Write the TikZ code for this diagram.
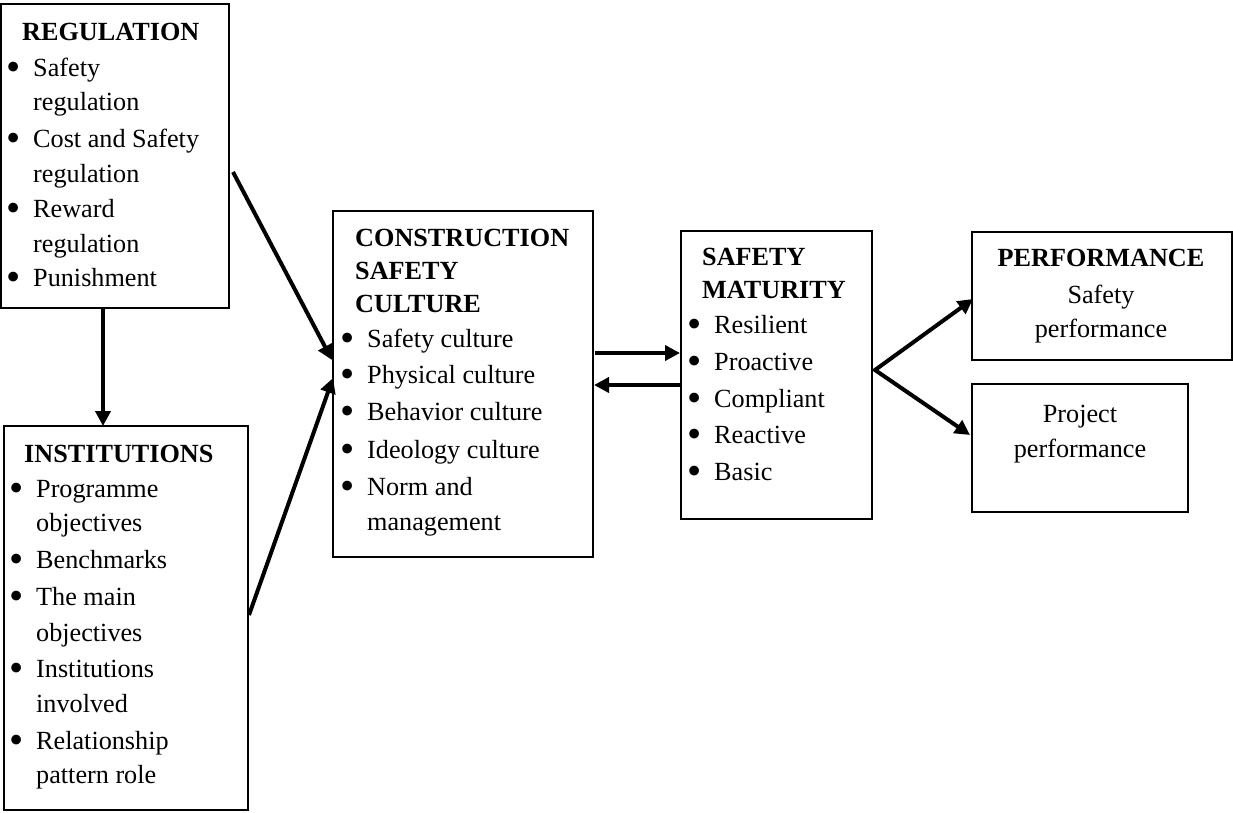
\documentclass[tikz,border=0pt]{standalone}
\usepackage{fontspec}
\usepackage{graphicx}
\setmainfont{Liberation Serif}
\usetikzlibrary{arrows.meta}
% bullet hung 20pt to the left of the item text
\newcommand\bul{\llap{\makebox[40pt]{\smash{\raisebox{-4pt}{\scalebox{1.55}{\textbullet}}}}}}
\begin{document}
\begin{tikzpicture}[x=1pt,y=-1pt,
  box/.style={draw, line width=1.8pt, rectangle, inner sep=0pt, outer sep=0pt, anchor=north west},
  txt/.style={inner sep=0pt, anchor=base west, font=\fontsize{26.2}{35}\selectfont},
  ctxt/.style={inner sep=0pt, anchor=base, font=\fontsize{26.2}{35}\selectfont},
  link/.style={line width=4pt, -{Triangle[length=15pt,width=15pt]}}]

\useasboundingbox (0,0) rectangle (1233,812);

% boxes
\node[box, minimum width=228pt, minimum height=304pt] (reg)  at (1,4) {};
\node[box, minimum width=244pt, minimum height=384pt] (inst) at (4,426) {};
\node[box, minimum width=260pt, minimum height=346pt] (csc)  at (333,211) {};
\node[box, minimum width=191pt, minimum height=288pt] (smat) at (681,231) {};
\node[box, minimum width=260pt, minimum height=128pt] (perf) at (972,232) {};
\node[box, minimum width=216pt, minimum height=128pt] (proj) at (972,384) {};

% box contents
\node[txt] (regT) at (33,40) {\begin{tabular}[t]{@{}l@{}}
\hspace*{-11pt}\textbf{REGULATION}\\[1pt]
\bul Safety\\[-1pt]
regulation\\[2pt]
\bul Cost and Safety\\
regulation\\
\bul Reward\\
regulation\\[-1pt]
\bul Punishment
\end{tabular}};

\node[txt] (instT) at (36,462) {\begin{tabular}[t]{@{}l@{}}
\hspace*{-12pt}\textbf{INSTITUTIONS}\\
\bul Programme\\[-1pt]
objectives\\[2pt]
\bul Benchmarks\\[2pt]
\bul The main\\[1pt]
objectives\\[1pt]
\bul Institutions\\
involved\\[2pt]
\bul Relationship\\[-1pt]
pattern role
\end{tabular}};

\node[txt] (cscT) at (367,246) {\begin{tabular}[t]{@{}l@{}}
\hspace*{-12pt}\textbf{CONSTRUCTION}\\[-2pt]
\hspace*{-12pt}\textbf{SAFETY}\\[-2pt]
\hspace*{-12pt}\textbf{CULTURE}\\
\bul Safety culture\\[1pt]
\bul Physical culture\\[2pt]
\bul Behavior culture\\[3pt]
\bul Ideology culture\\[2pt]
\bul Norm and\\
management
\end{tabular}};

\node[txt] (smatT) at (714,265) {\begin{tabular}[t]{@{}l@{}}
\hspace*{-12pt}\textbf{SAFETY}\\[-2pt]
\hspace*{-12pt}\textbf{MATURITY}\\
\bul Resilient\\[2pt]
\bul Proactive\\[2pt]
\bul Compliant\\[1pt]
\bul Reactive\\[2pt]
\bul Basic
\end{tabular}};

\node[ctxt] (perfT) at (1101,266) {\begin{tabular}[t]{@{}c@{}}
\textbf{PERFORMANCE}\\[2pt]
Safety\\[-1pt]
performance
\end{tabular}};

\node[ctxt] (projT) at (1080,422) {\begin{tabular}[t]{@{}c@{}}
Project\\
performance
\end{tabular}};

% connectors
\draw[link] ([xshift=-12pt]reg.south) -- ([xshift=-23pt]inst.north);
\draw[link] ([shift={(4,16)}]reg.east) -- ([shift={(-1,-24)}]csc.west);
\draw[link] ([shift={(1,-3)}]inst.east) -- ([shift={(0,-6)}]csc.west);
\draw[link] ([shift={(2,-31)}]csc.east) -- ([shift={(-1,-22)}]smat.west);
\draw[link] ([shift={(-1,10)}]smat.west) -- ([shift={(1,1)}]csc.east);
\draw[line width=4pt, miter limit=10, {Triangle[length=15pt,width=15pt]}-{Triangle[length=15pt,width=15pt]}]
  ([shift={(1,3)}]perf.west) -- ([shift={(3,-5)}]smat.east) -- ([shift={(-2,-13)}]proj.west);
\end{tikzpicture}
\end{document}
